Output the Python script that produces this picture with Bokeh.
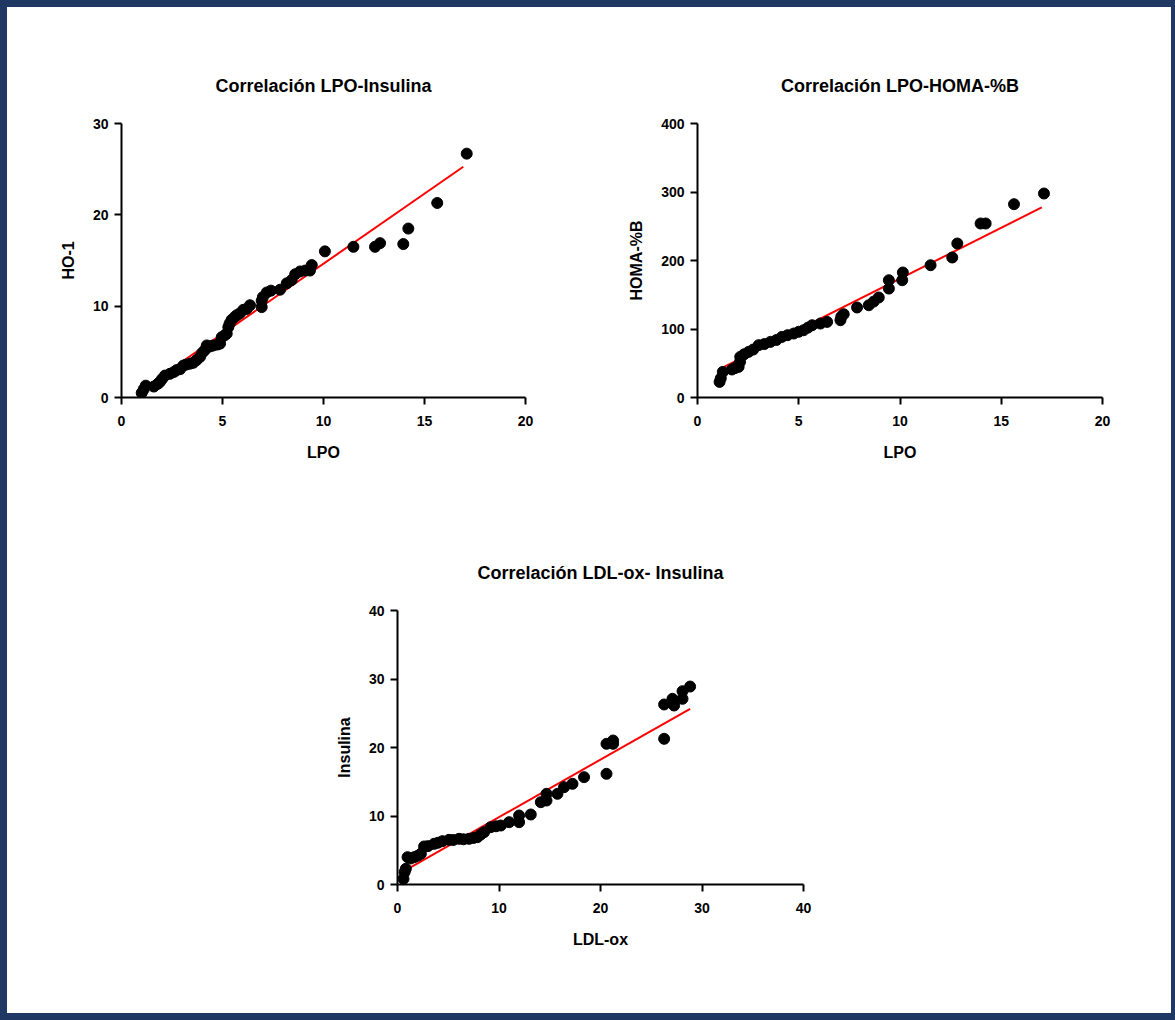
from bokeh.plotting import figure
from bokeh.layouts import column, row
from bokeh.models import Range1d, Spacer, FixedTicker
from bokeh.embed import file_html
from bokeh.resources import INLINE

# ---- Data: Correlación LPO-Insulina ----
lpo_1 = [1.0, 1.1, 1.2, 1.6, 1.8, 1.9, 2.0, 2.15, 2.4, 2.6, 2.73, 2.9, 3.06, 3.2, 3.39,
         3.55, 3.72, 3.89, 4.0, 4.13, 4.22, 4.4, 4.55, 4.75, 4.88, 4.96, 5.1, 5.21, 5.29,
         5.35, 5.45, 5.6, 5.7, 5.85, 6.03, 6.2, 6.36, 6.94, 6.94, 7.0, 7.19, 7.4, 7.85,
         8.18, 8.42, 8.6, 8.84, 9.1, 9.33, 9.42, 10.07, 11.48, 12.55, 12.8, 13.95, 14.2,
         15.63, 17.09]
ho1 = [0.5, 0.9, 1.3, 1.2, 1.5, 1.7, 2.0, 2.4, 2.6, 2.8, 3.0, 3.1, 3.5, 3.6, 3.7,
       3.8, 4.1, 4.45, 4.9, 5.2, 5.7, 5.6, 5.7, 5.8, 5.9, 6.6, 6.8, 7.0, 7.7,
       8.1, 8.5, 8.8, 9.0, 9.2, 9.6, 9.7, 10.1, 9.9, 10.6, 11.0, 11.5, 11.7, 11.8,
       12.5, 12.85, 13.5, 13.8, 13.9, 13.9, 14.5, 16.0, 16.5, 16.5, 16.9, 16.8, 18.5,
       21.3, 26.7]
fit1_x = [1.0, 16.92]
fit1_y = [0.85, 25.26]

# ---- Data: Correlación LPO-HOMA-%B ----
lpo_2 = [1.09, 1.15, 1.25, 1.7, 1.85, 2.03, 2.1, 2.11, 2.3, 2.52, 2.75, 3.02, 3.3, 3.6,
         3.9, 4.17, 4.45, 4.75, 5.0, 5.24, 5.45, 5.66, 6.07, 6.4, 7.06, 7.1, 7.22, 7.88,
         8.46, 8.7, 8.95, 9.45, 9.45, 10.11, 10.14, 11.51, 12.58, 12.83, 13.98, 14.23,
         15.63, 17.11]
homa_b = [22.8, 28, 37.4, 40.9, 43, 44.7, 52, 59.3, 63, 66.6, 70, 76.4, 78, 81.2,
          84, 88.5, 91, 93.4, 96, 98.2, 102, 105.5, 108, 110.4, 112.8, 118, 121.6, 131.4,
          134.7, 140, 146, 159, 171.2, 171.2, 182.5, 193.1, 204.4, 224.8, 254, 254,
          282.2, 297.8]
fit2_x = [1.09, 17.0]
fit2_y = [41.3, 277.4]

# ---- Data: Correlación LDL-ox- Insulina ----
ldl_ox = [0.59, 0.7, 0.82, 0.99, 1.3, 1.64, 2.0, 2.3, 2.62, 3.0, 3.61, 4.0, 4.43, 5.08,
          5.5, 6.07, 6.5, 7.05, 7.5, 7.88, 8.2, 8.53, 9.19, 9.7, 10.18, 11.0, 11.98,
          11.98, 13.13, 14.12, 14.68, 14.68, 15.76, 16.41, 17.24, 18.38, 20.59, 20.59,
          21.24, 21.24, 26.27, 26.27, 27.09, 27.25, 28.08, 28.08, 28.83]
insulina = [0.83, 1.8, 2.29, 3.99, 3.8, 3.99, 4.2, 4.48, 5.55, 5.6, 5.94, 6.1, 6.33, 6.52,
            6.5, 6.67, 6.6, 6.67, 6.8, 6.91, 7.3, 7.64, 8.37, 8.5, 8.61, 9.1, 9.1,
            10.07, 10.22, 12.02, 12.26, 13.24, 13.24, 14.21, 14.7, 15.67, 16.16, 20.54,
            21.02, 20.54, 21.27, 26.28, 27.11, 26.13, 27.11, 28.22, 28.9]
fit3_x = [0.59, 28.83]
fit3_y = [1.93, 25.65]

FONT = "Liberation Sans"


def make_fig(width, height, left, right, top, bottom, xr, yr, xticks, yticks,
             title, xlabel, ylabel, xs, ys, fx, fy):
    p = figure(width=width, height=height, x_range=Range1d(*xr), y_range=Range1d(*yr),
               output_backend="svg", toolbar_location=None, title=title,
               min_border_left=left, min_border_right=right,
               min_border_top=top, min_border_bottom=bottom)
    p.outline_line_color = None
    p.grid.visible = False
    p.background_fill_color = "white"
    p.border_fill_color = "white"

    p.title.align = "center"
    p.title.text_font = FONT
    p.title.text_font_size = "18px"
    p.title.text_font_style = "bold"
    p.title.text_color = "black"
    p.title.standoff = 56

    p.xaxis.ticker = FixedTicker(ticks=xticks)
    p.yaxis.ticker = FixedTicker(ticks=yticks)
    for ax in (p.xaxis, p.yaxis):
        ax.axis_line_width = 2
        ax.axis_line_color = "black"
        ax.major_tick_line_width = 2
        ax.major_tick_line_color = "black"
        ax.major_tick_in = 0
        ax.major_tick_out = 7
        ax.minor_tick_line_color = None
        ax.major_label_text_font = FONT
        ax.major_label_text_font_size = "14px"
        ax.major_label_text_font_style = "bold"
        ax.major_label_text_color = "black"
        ax.axis_label_text_font = FONT
        ax.axis_label_text_font_size = "16px"
        ax.axis_label_text_font_style = "bold"
        ax.axis_label_text_color = "black"
    p.xaxis.axis_label = xlabel
    p.yaxis.axis_label = ylabel
    p.xaxis.major_label_standoff = 11
    p.yaxis.major_label_standoff = 6
    p.xaxis.axis_label_standoff = 15
    p.yaxis.axis_label_standoff = 13

    p.line(fx, fy, line_color="red", line_width=2)
    p.scatter(xs, ys, size=11, fill_color="black", line_color="black")
    return p


f1 = make_fig(580, 490, 114, 62, 116, 100, (0, 20), (0, 30),
              [0, 5, 10, 15, 20], [0, 10, 20, 30],
              "Correlación LPO-Insulina", "LPO", "HO-1", lpo_1, ho1, fit1_x, fit1_y)
f2 = make_fig(584, 490, 110, 69, 116, 100, (0, 20), (0, 400),
              [0, 5, 10, 15, 20], [0, 100, 200, 300, 400],
              "Correlación LPO-HOMA-%B", "LPO", "HOMA-%B", lpo_2, homa_b, fit2_x, fit2_y)
f3 = make_fig(700, 516, 160, 134, 113, 129, (0, 40), (0, 40),
              [0, 10, 20, 30, 40], [0, 10, 20, 30, 40],
              "Correlación LDL-ox- Insulina", "LDL-ox", "Insulina", ldl_ox, insulina,
              fit3_x, fit3_y)

layout = column(
    row(f1, f2),
    row(Spacer(width=230, height=516), f3),
    styles={"border-style": "solid", "border-color": "#1F3864",
            "border-width": "7px 4px 7px 7px", "background-color": "white"},
)

open("out.html", "w").write(file_html(layout, INLINE))
